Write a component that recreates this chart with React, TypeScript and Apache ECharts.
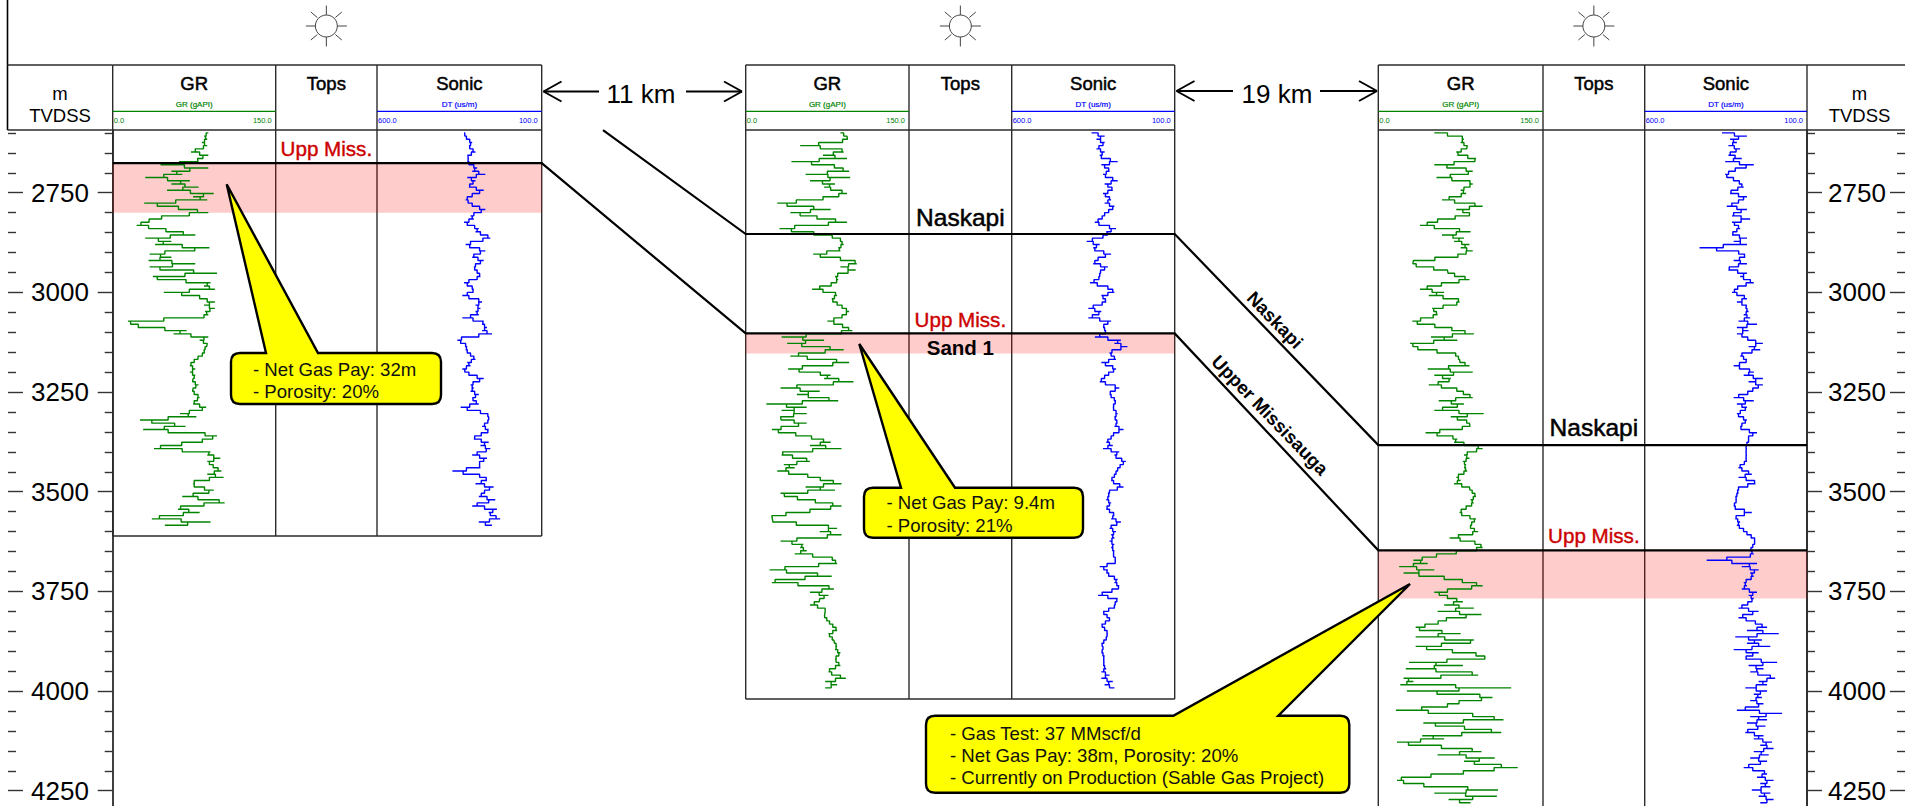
import React, { useEffect, useRef } from "react";
import * as echarts from "echarts";

const WIDTH = 1905;
const HEIGHT = 806;
const FONT = '"Liberation Sans", Arial, sans-serif';

// ---------- data ----------
const DEPTH_START = 2600;
const SAMPLE_STEP = 8;

const well1GR = [88,84,87,82,87,80,72,88,78,79,44,88,54,64,30,71,54,79,50,93,74,87,29,53,68,88,53,37,30,22,44,54,76,30,54,39,89,62,34,54,33,76,34,53,96,37,45,90,84,94,47,80,80,94,84,94,85,88,80,14,19,28,68,56,88,80,87,86,84,85,80,77,73,71,76,71,76,74,73,79,74,73,77,80,76,74,86,79,62,77,25,47,67,28,74,96,88,77,50,38,90,87,99,87,91,94,100,87,102,76,74,76,93,84,64,93,103,65,60,80,50,36,90,48];
const well1DT = [336,331,326,311,321,316,301,326,321,326,316,296,311,271,326,301,316,321,276,301,321,331,316,306,271,296,316,306,336,316,291,301,271,256,301,331,306,271,301,311,276,296,306,301,291,286,306,336,316,306,311,341,301,281,301,286,301,291,341,276,281,266,281,251,331,356,336,326,331,321,311,301,326,316,341,326,316,276,301,316,306,316,291,311,306,291,346,306,266,261,261,266,281,261,266,301,306,261,286,256,281,311,266,286,291,286,371,306,271,266,301,246,271,276,291,241,281,311,236,261,251,226,291,251];
const well2GR = [87,93,94,84,50,87,90,71,93,42,79,84,95,55,96,59,82,72,84,93,78,64,29,47,78,41,59,72,93,59,31,53,72,87,87,90,85,87,62,75,99,102,87,101,87,82,85,82,75,61,81,84,79,81,87,90,95,90,87,75,87,91,98,78,33,72,38,65,90,56,41,72,95,65,39,59,78,72,99,62,32,68,47,68,85,19,56,33,56,32,33,56,41,24,36,56,65,78,59,88,35,33,53,59,35,45,29,50,64,73,88,55,82,32,39,56,72,88,68,50,24,25,25,68,84,68,88,62,32,53,50,56,45,78,81,84,50,22,53,79,30,24,72,81,59,76,68,67,59,73,73,72,73,76,78,82,84,76,78,81,82,84,82,87,84,82,84,87,78,76,82,92,73,84,73];
const well2DT = [355,315,340,315,325,340,315,330,320,275,325,305,300,320,305,275,315,295,290,320,305,295,315,285,295,310,320,325,345,320,280,310,305,335,370,330,350,340,295,330,340,350,305,325,330,330,335,360,315,295,285,325,315,310,335,365,325,340,365,295,315,320,310,315,345,265,285,245,285,300,290,280,325,300,280,295,310,320,330,295,270,295,300,290,280,285,290,285,275,285,280,275,285,257,285,290,300,310,290,320,270,285,275,250,265,270,280,280,290,295,280,257,295,305,300,310,295,305,310,290,285,295,265,290,300,280,295,285,300,285,295,285,290,285,280,285,330,305,310,295,275,285,270,275,310,335,275,280,285,285,320,315,300,300,325,320,310,305,310,310,325,320,320,325,315,320,315,320,310,325,300,325,290,315,285];
const well3GR = [51,75,78,75,81,80,71,74,89,87,51,74,86,78,53,81,86,81,75,80,71,58,81,95,71,83,83,57,51,38,64,84,58,78,69,83,75,86,74,71,32,31,38,63,64,75,83,64,51,38,60,46,72,74,69,49,52,54,46,31,40,63,71,87,48,72,29,34,38,69,72,74,75,83,45,86,51,66,63,46,69,74,81,86,55,78,66,51,96,66,78,83,84,69,43,64,72,69,87,95,84,78,83,77,80,78,81,75,71,75,69,83,84,87,89,84,87,83,77,74,78,89,86,84,84,91,81,65,84,92,95,84,58,48,32,45,19,51,23,51,69,84,95,75,51,60,66,77,60,87,54,94,66,58,51,34,41,75,34,87,81,34,54,81,97,97,28,77,25,80,91,23,32,20,121,26,81,104,84,63,63,16,75,97,114,41,63,94,112,40,60,17,38,77,94,54,106,78,97,127,84,71,25,17,29,54,109,51,108,64,84];
const well3DT = [362,285,337,316,342,306,331,342,301,352,264,311,331,352,342,311,306,295,331,337,285,306,316,347,285,321,331,275,331,316,306,326,331,285,326,285,431,326,295,290,326,285,337,342,285,306,285,264,311,316,331,301,285,316,285,290,280,295,275,311,254,316,280,316,285,280,236,280,244,295,306,285,290,326,290,264,295,236,280,236,264,270,295,326,264,316,285,295,316,306,285,295,306,301,254,280,280,280,290,285,290,285,290,285,301,311,290,270,311,264,259,306,316,311,321,316,321,326,316,270,316,321,306,316,301,290,280,264,259,264,270,275,264,285,409,254,301,249,275,264,280,295,285,301,254,280,264,275,290,311,249,285,311,264,254,223,285,187,321,239,285,213,326,249,285,290,192,280,234,275,228,198,249,223,290,223,264,239,275,234,264,316,177,275,223,285,228,275,290,234,264,208,244,203,264,218,275,223,264,295,239,223,254,203,244,213,270,213,249,203,244];

const majorTicks = [2750,3000,3250,3500,3750,4000,4250];
const minorTicks = [2600,2650,2700,2800,2850,2900,2950,3050,3100,3150,3200,3300,3350,3400,3450,3550,3600,3650,3700,3800,3850,3900,3950,4050,4100,4150,4200];

const naskapiDepths = [2853.6, 3383];
const uppMissDepths = [2676, 3103, 3647];
const payBaseDepths = [2800, 3153, 3768];
const naskapiEntryDepth = 2593;

const km = ["11 km", "19 km"];
const note1 = ["- Net Gas Pay: 32m", "- Porosity: 20%"];
const note2 = ["- Net Gas Pay: 9.4m", "- Porosity: 21%"];
const note3 = ["- Gas Test: 37 MMscf/d", "- Net Gas Pay: 38m, Porosity: 20%", "- Currently on Production (Sable Gas Project)"];

// ---------- layout ----------
const DEPTH_MIN = 2592.7;
const DEPTH_MAX = 4288.3;
const GRID_TOP = 130;
const GRID_H = HEIGHT - GRID_TOP;
const HEAD_TOP = 65;

const wells = [
  { a: 112.7, b: 275.7, c: 377, d: 541.7, bottom: 536, gr: well1GR, dt: well1DT },
  { a: 745.7, b: 909, c: 1011.7, d: 1174.7, bottom: 699, gr: well2GR, dt: well2DT },
  { a: 1378.3, b: 1543, c: 1644.7, d: 1807, bottom: 806, gr: well3GR, dt: well3DT },
];

const GREEN = "#008400";
const BLUE = "#0000ff";
const FRAME = "#2b2b2b";

function calloutPath(x0: number, y0: number, x1: number, y1: number, b0: number, b1: number, tx: number, ty: number) {
  const r = 9;
  return `M${x0 + r} ${y0}L${b0} ${y0}L${tx} ${ty}L${b1} ${y0}L${x1 - r} ${y0}Q${x1} ${y0} ${x1} ${y0 + r}L${x1} ${y1 - r}Q${x1} ${y1} ${x1 - r} ${y1}L${x0 + r} ${y1}Q${x0} ${y1} ${x0} ${y1 - r}L${x0} ${y0 + r}Q${x0} ${y0} ${x0 + r} ${y0}Z`;
}
const callouts = [
  { name: "callout1", path: calloutPath(231, 353, 441, 404, 266, 318, 226.7, 184.3), tx: 253, ty: 369, lines: note1 },
  { name: "callout2", path: calloutPath(864, 487.7, 1083, 537.7, 901, 955, 859.3, 344), tx: 886.5, ty: 502.7, lines: note2 },
  { name: "callout3", path: calloutPath(926, 715.7, 1349.3, 792.7, 1173.3, 1278.3, 1410, 584), tx: 950, ty: 733, lines: note3 },
];
callouts.forEach((c) => {
  echarts.graphic.registerShape(c.name, echarts.graphic.extendPath(c.path as any, {}) as any);
});

function line(x1: number, y1: number, x2: number, y2: number, stroke = FRAME, lineWidth = 1.4, z = 1) {
  return { type: "line", silent: true, z, shape: { x1, y1, x2, y2 }, style: { stroke, lineWidth } };
}
function text(t: string, x: number, y: number, fontSize: number, extra: any = {}, z = 3) {
  return {
    type: "text", silent: true, z, x, y,
    style: { text: t, fontFamily: FONT, fontSize, fill: "#000", align: "center", verticalAlign: "middle", ...extra },
  };
}
function sun(cx: number, cy: number) {
  const col = "#444";
  const items: any[] = [
    { type: "circle", silent: true, z: 1, shape: { cx, cy, r: 11 }, style: { fill: "#fff", stroke: col, lineWidth: 1 } },
  ];
  const dirs = [[0, 1], [1, 0], [0, -1], [-1, 0]];
  dirs.forEach(([dx, dy]) => items.push(line(cx + dx * 11, cy + dy * 11, cx + dx * 20.5, cy + dy * 20.5, col, 1)));
  [[1, 1], [1, -1], [-1, 1], [-1, -1]].forEach(([dx, dy]) =>
    items.push(line(cx + dx * 9, cy + dy * 8.5, cx + dx * 15.5, cy + dy * 14, col, 1)));
  return items;
}
function arrow(tip: number, tail: number, y: number) {
  const dir = tail > tip ? 1 : -1;
  const mk = (x1: number, y1: number, x2: number, y2: number) => line(x1, y1, x2, y2, "#000", 2, 2);
  return [mk(tip, y, tail, y), mk(tip, y, tip + dir * 18, y - 10), mk(tip, y, tip + dir * 18, y + 10)];
}

function frameElements() {
  const g: any[] = [];
  g.push(line(7.5, 0, 7.5, GRID_TOP, "#000", 1.6));
  g.push(line(7.5, HEAD_TOP, wells[0].a, HEAD_TOP));
  g.push(line(7.5, GRID_TOP, wells[0].a, GRID_TOP));
  g.push(text("m", 60, 93, 18.5));
  g.push(text("TVDSS", 60, 115, 18.5));
  g.push(line(wells[2].d, HEAD_TOP, WIDTH, HEAD_TOP));
  g.push(line(wells[2].d, GRID_TOP, WIDTH, GRID_TOP));
  g.push(text("m", 1859.5, 93, 18.5));
  g.push(text("TVDSS", 1859.5, 115, 18.5));

  wells.forEach((w) => {
    [w.a, w.b, w.c, w.d].forEach((x) => g.push(line(x, HEAD_TOP, x, w.bottom)));
    g.push(line(w.a, HEAD_TOP, w.d, HEAD_TOP));
    g.push(line(w.a, GRID_TOP, w.d, GRID_TOP));
    if (w.bottom < HEIGHT) g.push(line(w.a, w.bottom, w.d, w.bottom));
    const grMid = (w.a + w.b) / 2;
    const topsMid = (w.b + w.c) / 2;
    const dtMid = (w.c + w.d) / 2;
    const stroke = { stroke: "#000", lineWidth: 0.5 };
    g.push(text("GR", grMid, 83, 18.5, stroke));
    g.push(text("Tops", topsMid, 83, 18.5, stroke));
    g.push(text("Sonic", dtMid, 83, 18.5, stroke));
    g.push(text("GR (gAPI)", grMid, 104, 8, { fill: GREEN, stroke: GREEN, lineWidth: 0.2 }));
    g.push(text("DT (us/m)", dtMid, 104, 8, { fill: BLUE, stroke: BLUE, lineWidth: 0.2 }));
    g.push(line(w.a, 111.3, w.b, 111.3, GREEN, 1.2));
    g.push(line(w.c, 111.3, w.d, 111.3, BLUE, 1.2));
    g.push(text("0.0", w.a + 1, 120, 7.5, { fill: GREEN, align: "left" }));
    g.push(text("150.0", w.b - 4, 120, 7.5, { fill: GREEN, align: "right" }));
    g.push(text("600.0", w.c + 1, 120, 7.5, { fill: BLUE, align: "left" }));
    g.push(text("100.0", w.d - 4, 120, 7.5, { fill: BLUE, align: "right" }));
    g.push(...sun(topsMid, 26));
  });

  g.push(...arrow(543.5, 599, 91.5), ...arrow(742, 686, 91.5));
  g.push(text(km[0], 641, 94, 26));
  g.push(...arrow(1176.5, 1233, 91), ...arrow(1377, 1320, 91));
  g.push(text(km[1], 1277, 94, 26));

  const rot = (-46 * Math.PI) / 180;
  g.push({ ...text("Naskapi", 1275, 320, 18.5, { fontWeight: "bold" }), rotation: rot });
  g.push({ ...text("Upper Missisauga", 1270, 415, 18.5, { fontWeight: "bold" }), rotation: rot });

  callouts.forEach((c) => {
    g.push({ type: c.name, silent: true, z: 50, style: { fill: "#ffff00", stroke: "#000", lineWidth: 2.4, lineJoin: "miter" } });
    c.lines.forEach((t, i) => g.push(text(t, c.tx, c.ty + i * 22.3, 18.6, { align: "left", fill: "#111" }, 51)));
  });
  return g;
}

function buildOption() {
  const grid: any[] = [{ left: 0, top: GRID_TOP, width: WIDTH, height: GRID_H }];
  const xAxis: any[] = [{ type: "value", gridIndex: 0, min: 0, max: WIDTH, show: false }];
  const yBase = { type: "value", min: DEPTH_MIN, max: DEPTH_MAX, inverse: true, splitLine: { show: false } };
  const yAxis: any[] = [{ ...yBase, gridIndex: 0, show: false }];
  const series: any[] = [];

  const addTrack = (left: number, right: number, min: number, max: number, inverse: boolean, values: number[], color: string) => {
    const gi = grid.length;
    grid.push({ left, top: GRID_TOP, width: right - left, height: GRID_H });
    xAxis.push({ type: "value", gridIndex: gi, min, max, inverse, show: false });
    yAxis.push({ ...yBase, gridIndex: gi, show: false });
    series.push({
      type: "line", xAxisIndex: gi, yAxisIndex: gi, showSymbol: false, symbol: "none", silent: true, z: 2,
      step: "middle",
      lineStyle: { color, width: 1.4 }, clip: false,
      data: values.map((v, i) => [v, DEPTH_START + i * SAMPLE_STEP]),
    });
  };
  wells.forEach((w) => {
    addTrack(w.a, w.b, 0, 150, false, w.gr, GREEN);
    addTrack(w.c, w.d, 100, 600, true, w.dt, BLUE);
  });

  const tickStyle = { color: "#333", width: 1.4 };
  const addScale = (left: number, right: number, labelMargin: number, lineSide: "left" | "right") => {
    const gi = grid.length;
    grid.push({ left, top: GRID_TOP, width: right - left, height: GRID_H });
    xAxis.push({ type: "value", gridIndex: gi, min: 0, max: 1, show: false });
    const mk = (position: string, custom: number[], length: number, withLabel: boolean, withLine: boolean) => ({
      ...yBase, gridIndex: gi, position,
      axisLine: { show: withLine, onZero: false, lineStyle: { color: "#111", width: 1.6 } },
      axisTick: { show: true, inside: true, length, lineStyle: tickStyle, customValues: custom },
      minorTick: { show: false },
      axisLabel: withLabel
        ? { show: true, inside: true, margin: labelMargin, align: "center", verticalAlign: "middle", color: "#000", fontFamily: FONT, fontSize: 26, customValues: majorTicks, formatter: (v: number) => String(v) }
        : { show: false },
    });
    yAxis.push(mk("left", majorTicks, 15, true, lineSide === "left"));
    yAxis.push(mk("left", minorTicks, 8, false, false));
    yAxis.push(mk("right", majorTicks, 15, false, lineSide === "right"));
    yAxis.push(mk("right", minorTicks, 8, false, false));
  };
  addScale(8, wells[0].a, 52, "right");
  addScale(wells[2].d, WIDTH, 50, "left");

  series.push({
    type: "line", xAxisIndex: 0, yAxisIndex: 0, data: [], z: 5, silent: true,
    markArea: {
      silent: true,
      itemStyle: { color: "rgba(255,0,0,0.2)", borderWidth: 0 },
      data: wells.map((w, i) => [
        { coord: [w.a, uppMissDepths[i]] },
        { coord: [w.d, payBaseDepths[i]] },
      ]),
    },
  });

  const corr = (data: number[][], width: number) => ({
    type: "line", xAxisIndex: 0, yAxisIndex: 0, showSymbol: false, symbol: "none", silent: true, z: 6,
    lineStyle: { color: "#000", width, join: "miter" }, data,
  });
  series.push(corr([
    [wells[0].a, uppMissDepths[0]], [wells[0].d, uppMissDepths[0]],
    [wells[1].a, uppMissDepths[1]], [wells[1].d, uppMissDepths[1]],
    [wells[2].a, uppMissDepths[2]], [wells[2].d, uppMissDepths[2]],
  ], 2.2));
  series.push(corr([
    [603, naskapiEntryDepth],
    [wells[1].a, naskapiDepths[0]], [wells[1].d, naskapiDepths[0]],
    [wells[2].a, naskapiDepths[1]], [wells[2].d, naskapiDepths[1]],
  ], 2.2));

  const mid = (w: any) => (w.b + w.c) / 2;
  const red = { color: "#cc0000", fontSize: 20.6, textBorderColor: "#cc0000", textBorderWidth: 0.4 };
  const blk = { color: "#000", fontSize: 24.5, textBorderColor: "#000", textBorderWidth: 0.5 };
  series.push({
    type: "scatter", xAxisIndex: 0, yAxisIndex: 0, symbolSize: 1, itemStyle: { color: "rgba(0,0,0,0)", opacity: 1 }, silent: true, z: 7,
    label: { show: true, position: "inside", fontFamily: FONT, formatter: (p: any) => p.name },
    data: [
      { name: "Upp Miss.", value: [mid(wells[0]), 2638], label: red },
      { name: "Naskapi", value: [mid(wells[1]), 2812], label: blk },
      { name: "Upp Miss.", value: [mid(wells[1]), 3067], label: red },
      { name: "Sand 1", value: [mid(wells[1]), 3138], label: { color: "#000", fontSize: 20.5, fontWeight: "bold" } },
      { name: "Naskapi", value: [mid(wells[2]), 3340], label: blk },
      { name: "Upp Miss.", value: [mid(wells[2]), 3609], label: red },
    ],
  });

  return {
    animation: false,
    backgroundColor: "#fff",
    tooltip: { show: false },
    legend: { show: false },
    textStyle: { fontFamily: FONT },
    grid, xAxis, yAxis, series,
    graphic: { elements: frameElements() },
  };
}

export default function App() {
  const ref = useRef<HTMLDivElement>(null);
  useEffect(() => {
    const chart = echarts.init(ref.current!, undefined, { renderer: "svg" });
    chart.setOption(buildOption() as any);
    return () => chart.dispose();
  }, []);
  return <div ref={ref} style={{ position: "absolute", left: 0, top: 0, width: WIDTH, height: HEIGHT, overflow: "hidden" }} />;
}
